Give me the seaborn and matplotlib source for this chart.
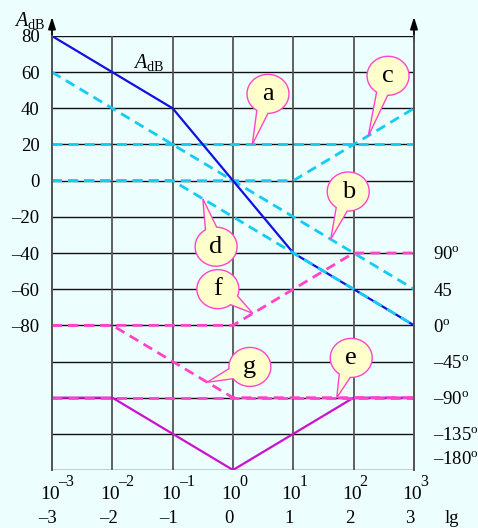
import numpy as np
import matplotlib
matplotlib.use("Agg")
import matplotlib.pyplot as plt
import matplotlib.transforms as mtransforms
import seaborn as sns
from matplotlib.patches import Polygon

# ---------------- data ----------------
lg_x = [-3, -2, -1, 0, 1, 2, 3]
A_total = [80, 60, 40, 0, -40, -60, -80]
a_line = [20, 20, 20, 20, 20, 20, 20]
b_line = [60, 40, 20, 0, -20, -40, -60]
c_line = [0, 0, 0, 0, 0, 20, 40]
d_line = [0, 0, 0, -20, -40, -60, -80]
e_phase = [-90, -90, -90, -90, -90, -90, -90]
f_phase = [0, 0, 0, 0, 45, 90, 90]
g_phase = [0, 0, -45, -90, -90, -90, -90]
total_phase = [-90, -90, -135, -180, -135, -90, -90]

x_exponents = ["\u20133", "\u20132", "\u20131", "0", "1", "2", "3"]
x_bot_labels = ["\u20133", "\u20132", "\u20131", "0", "1", "2", "3"]
db_ticks = [80, 60, 40, 20, 0, -20, -40, -60, -80]
db_labels = ["80", "60", "40", "20", "0", "\u201320", "\u201340", "\u201360", "\u201380"]
phase_ticks = [90, 45, 0, -45, -90, -135, -165]
phase_labels = [r"90$^{\rm o}$", "45", r"0$^{\rm o}$", "\u201345$^{\\rm o}$", "\u201390$^{\\rm o}$",
                "\u2013135$^{\\rm o}$", "\u2013180$^{\\rm o}$"]

def ph(v):
    # phase degrees -> position on the dB scale
    return [-80 + p * 20.0 / 45.0 for p in v]

BG = "#EDFEFF"
CYAN = "#11CCF5"
BLUE = "#1010E0"
PINK = "#FF44CC"
PURPLE = "#CC11CC"
dash = (0, (3.6, 2.2))

plt.rcParams["font.family"] = ["Liberation Serif", "DejaVu Serif"]
plt.rcParams["mathtext.fontset"] = "custom"
plt.rcParams["mathtext.rm"] = "Liberation Serif"
plt.rcParams["mathtext.it"] = "Liberation Serif:italic"

fig = plt.figure(figsize=(4.78, 5.28), dpi=100, facecolor=BG)
ax = fig.add_axes([52 / 478, 58 / 528, 362 / 478, 434 / 528])
ax.set_facecolor(BG)
ax.set_xlim(-3, 3)
ax.set_ylim(-160, 80)

# grid
for yv in range(-160, 81, 20):
    ax.axhline(yv, color="#111111", lw=1.0, zorder=1)
for xv in lg_x:
    ax.axvline(xv, color="#555555", lw=1.3, zorder=1)

# magnitude asymptotes
sns.lineplot(x=lg_x, y=c_line, ax=ax, color=CYAN, lw=2, linestyle=dash, zorder=3)
sns.lineplot(x=lg_x, y=a_line, ax=ax, color=CYAN, lw=2, linestyle=dash, zorder=3)
sns.lineplot(x=lg_x, y=b_line, ax=ax, color=CYAN, lw=2, linestyle=dash, zorder=3)
sns.lineplot(x=lg_x, y=A_total, ax=ax, color=BLUE, lw=1.6, zorder=4)
sns.lineplot(x=lg_x, y=d_line, ax=ax, color=CYAN, lw=2, linestyle=dash, zorder=5)

# phase asymptotes
sns.lineplot(x=lg_x, y=ph(total_phase), ax=ax, color=PURPLE, lw=1.6, zorder=3)
sns.lineplot(x=lg_x, y=ph(e_phase), ax=ax, color=PINK, lw=2, linestyle=dash, zorder=4)
sns.lineplot(x=lg_x, y=ph(f_phase), ax=ax, color=PINK, lw=2, linestyle=dash, zorder=4)
sns.lineplot(x=lg_x, y=ph(g_phase), ax=ax, color=PINK, lw=2, linestyle=dash, zorder=4)

# ticks
ax.set_xticks(lg_x)
ax.set_xticklabels([""] * len(lg_x))
ax.set_yticks(db_ticks)
ax.set_yticklabels(db_labels, fontsize=13.5)
ax.tick_params(axis="both", length=0)
ax.tick_params(axis="y", pad=9)
xt = ax.get_xaxis_transform()
for xv, ex, lab in zip(lg_x, x_exponents, x_bot_labels):
    t10 = mtransforms.offset_copy(xt, fig=fig, x=-2, y=-29, units="dots")
    ax.text(xv, 0, "10", transform=t10, ha="center", va="baseline", fontsize=14)
    tex = mtransforms.offset_copy(xt, fig=fig, x=6, y=-16, units="dots")
    ax.text(xv, 0, ex, transform=tex, ha="left", va="baseline", fontsize=11.5)
    tb = mtransforms.offset_copy(xt, fig=fig, x=-4, y=-53, units="dots")
    ax.text(xv, 0, lab, transform=tb, ha="center", va="baseline", fontsize=13.5)
tb = mtransforms.offset_copy(xt, fig=fig, x=38, y=-53, units="dots")
ax.text(3, 0, "lg", transform=tb, ha="center", va="baseline", fontsize=13.5)

ax2 = ax.twinx()
ax2.set_ylim(-160, 80)
ax2.set_yticks(ph(phase_ticks))
ax2.set_yticklabels(phase_labels, fontsize=13.5)
ax2.tick_params(axis="y", length=0, pad=14)
for a_ in (ax, ax2):
    for s in ("top", "bottom"):
        a_.spines[s].set_visible(False)
    a_.spines["left"].set_color("#555555")
    a_.spines["right"].set_color("#555555")
    a_.spines["left"].set_linewidth(1.3)
    a_.spines["right"].set_linewidth(1.3)

# axis arrows
for xf in (0, 1):
    ax.annotate("", xy=(xf, 1.044), xytext=(xf, 0.99), xycoords="axes fraction",
                arrowprops=dict(arrowstyle="-|>,head_length=0.7,head_width=0.22",
                                color="black", lw=1.3, shrinkA=0, shrinkB=0))

fig.text(14 / 478, 1 - 26 / 528, r"$A_{\rm dB}$", fontsize=14.5, ha="left", va="baseline")
ax.text(-1.4, 65.5, r"$A_{\rm dB}$", fontsize=14.5, ha="center", va="center", zorder=6)

# callouts
def bubble(letter, center, tip, rx=21, ry=19.5, half=0.28):
    cx, cy = ax.transData.transform(center)
    tx, ty = ax.transData.transform(tip)
    th = np.arctan2((ty - cy) / ry, (tx - cx) / rx)
    angs = np.linspace(th + half, th + 2 * np.pi - half, 80)
    pts = [(cx + rx * np.cos(t), cy + ry * np.sin(t)) for t in angs]
    pts.append((tx, ty))
    poly = Polygon(pts, closed=True, transform=mtransforms.IdentityTransform(),
                   facecolor="#FFFFCC", edgecolor=PINK, lw=1.0, zorder=8, clip_on=False)
    ax.add_artist(poly)
    ax.text(center[0], center[1], letter, fontsize=19, ha="center", va="center", zorder=9)

fig.canvas.draw()
bubble("a", (0.58, 48), (0.32, 20))
bubble("c", (2.57, 58), (2.24, 24.5))
bubble("b", (1.91, -6), (1.62, -32.4))
bubble("d", (-0.28, -36.5), (-0.50, -10))
bubble("f", (-0.25, -60), (0.33, -73.4))
bubble("g", (0.28, -103), (-0.43, -111.5))
bubble("e", (1.96, -98), (1.72, -120))

fig.savefig("out.png", dpi=100, facecolor=BG)
